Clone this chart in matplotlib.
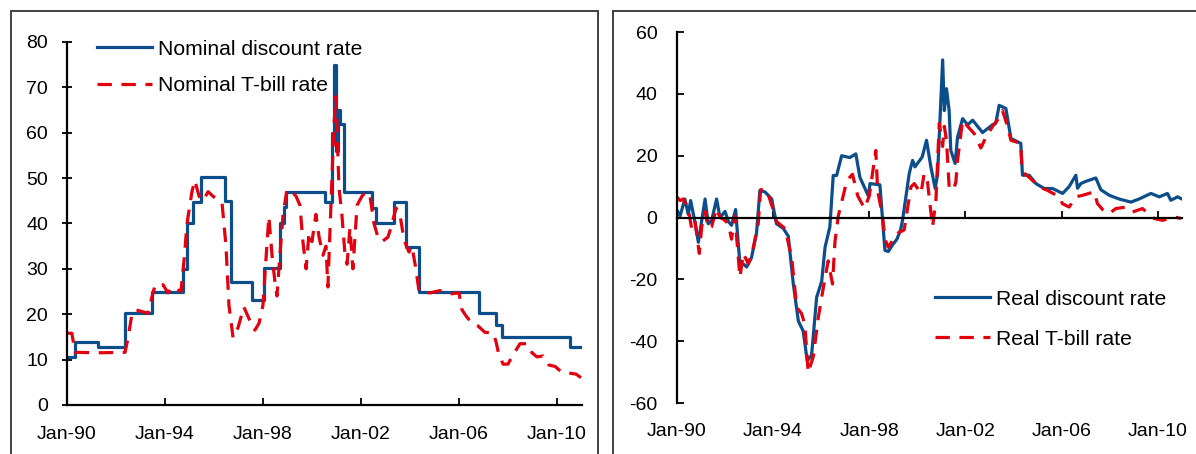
import matplotlib
matplotlib.use('Agg')
import matplotlib.pyplot as plt
from matplotlib.patches import Rectangle

plt.rcParams['font.family'] = ['Liberation Sans', 'DejaVu Sans']
plt.rcParams['font.size'] = 14
plt.rcParams['axes.unicode_minus'] = False

BLUE = '#0C4E8C'
RED = '#E3000F'

# nominal discount rate: change points (decimal year, level), drawn as steps
disc_years = [1990.0, 1990.33, 1991.25, 1992.35, 1993.45, 1994.75, 1994.88, 1995.15,
              1995.45, 1996.45, 1996.68, 1997.56, 1998.05, 1998.7, 1998.85, 1998.95,
              2000.53, 2000.8, 2000.9, 2000.98, 2001.05, 2001.15, 2001.3, 2002.45,
              2002.6, 2003.35, 2003.85, 2004.35, 2006.8, 2007.5, 2007.75, 2010.55, 2011.0]
disc_rate = [10.6, 13.9, 12.8, 20.2, 25, 30, 40, 44.8,
             50.2, 45, 27.2, 23.1, 30.1, 40, 43.7, 47,
             44.8, 60, 75, 56, 65, 62, 47, 43.3,
             40, 44.8, 34.9, 25, 20.2, 17.6, 15, 12.8, 12.8]

tbill_years = [1990.0, 1990.2, 1990.33, 1991.3, 1992.37, 1992.5, 1992.65, 1992.8, 1993.3,
               1993.43, 1993.6, 1993.92, 1994.12, 1994.29, 1994.65, 1994.78, 1994.9, 1995.1,
               1995.22, 1995.39, 1995.55, 1995.76, 1995.96, 1996.33, 1996.49, 1996.61, 1996.78,
               1996.98, 1997.22, 1997.43, 1997.67, 1997.84, 1998.0, 1998.12, 1998.24, 1998.37,
               1998.49, 1998.57, 1998.65, 1998.82, 1998.98, 1999.18, 1999.35, 1999.51, 1999.63,
               1999.76, 1999.88, 2000.0, 2000.16, 2000.29, 2000.45, 2000.57, 2000.65, 2000.78,
               2000.9, 2000.98, 2001.1, 2001.22, 2001.35, 2001.43, 2001.55, 2001.67, 2001.84,
               2002.04, 2002.2, 2002.37, 2002.53, 2002.69, 2002.86, 2003.1, 2003.22, 2003.43,
               2003.59, 2003.76, 2003.96, 2004.08, 2004.24, 2004.37, 2004.82, 2005.22, 2005.71,
               2006.0, 2006.12, 2006.29, 2006.53, 2006.78, 2007.06, 2007.39, 2007.51, 2007.63,
               2007.8, 2008.0, 2008.2, 2008.49, 2008.78, 2008.98, 2009.18, 2009.43, 2009.67,
               2009.92, 2010.2, 2010.53, 2010.78, 2010.98]
tbill_rate = [15.8, 15.8, 11.6, 11.5, 11.6, 15, 20, 21, 20.2,
              23, 26.5, 26.5, 24.7, 26, 25, 32, 40, 47,
              49.5, 46, 45, 47, 46, 44.5, 35, 22, 14.8,
              17, 21.6, 19, 16.5, 18, 22, 32, 41.5, 33,
              27, 24, 30, 42, 47.5, 47, 46, 44, 36,
              30, 38, 36, 42, 37, 33, 35, 26, 45,
              62, 68, 48, 42, 33, 31, 39, 30, 44,
              46, 47, 46, 40, 37, 36, 37, 39, 43.4,
              42, 36.3, 33.7, 35, 30, 25, 24.7, 25.2, 24.5,
              24.7, 21, 19.6, 18, 17.4, 16, 15.9, 14, 11,
              9, 9, 11, 13.5, 13.5, 11.5, 10.6, 10.8, 8.8,
              8.5, 7.2, 7, 6.8, 6.0]

real_disc_years = [1990.0, 1990.13, 1990.33, 1990.47, 1990.57, 1990.75, 1990.89, 1991.03,
                   1991.17, 1991.3, 1991.44, 1991.65, 1991.79, 1992.0, 1992.14, 1992.27,
                   1992.44, 1992.55, 1992.62, 1992.76, 1992.9, 1993.1, 1993.31, 1993.45,
                   1993.66, 1993.94, 1994.14, 1994.42, 1994.63, 1994.84, 1995.05, 1995.25,
                   1995.42, 1995.6, 1995.81, 1996.02, 1996.16, 1996.36, 1996.5, 1996.64,
                   1996.85, 1997.19, 1997.44, 1997.61, 1997.96, 1998.03, 1998.44, 1998.65,
                   1998.79, 1998.95, 1999.15, 1999.3, 1999.38, 1999.66, 1999.8, 1999.9,
                   2000.2, 2000.38, 2000.56, 2000.74, 2000.84, 2001.05, 2001.12, 2001.21,
                   2001.32, 2001.39, 2001.57, 2001.67, 2001.88, 2002.09, 2002.3, 2002.71,
                   2003.12, 2003.26, 2003.4, 2003.68, 2003.89, 2004.3, 2004.37, 2004.65,
                   2004.93, 2005.27, 2005.62, 2006.04, 2006.31, 2006.59, 2006.66, 2006.8,
                   2007.0, 2007.42, 2007.63, 2007.98, 2008.39, 2008.88, 2009.22, 2009.71,
                   2010.06, 2010.4, 2010.54, 2010.82, 2011.0]
real_disc = [2.4, 0.5, 6, 1, 5.5, -1.5, -8, -1,
             6, -2, -1, 6, 0, 2, -1.3, -2.5,
             2.6, -8.4, -15, -15, -16, -13, -5, 8.8,
             8.3, 6, -2, -3.5, -6, -21.5, -33.5, -36.7,
             -46.4, -44.5, -25.8, -20.6, -9.6, -3, 13.6, 13.6,
             20, 19.4, 20.6, 13, 7, 11, 10.6, -10.6,
             -11, -9, -7, -4, -1, 14.2, 18.5, 16.4,
             19.6, 25, 16.4, 9.4, 14, 51, 34.6, 41.7,
             34.6, 21.7, 17.5, 26, 32, 30, 31.5, 27.5,
             30, 30.5, 36.3, 35.3, 25.6, 24, 13.7, 13.7,
             11, 9.4, 9.4, 7.8, 10, 13.7, 9.5, 11,
             11.7, 12.8, 9, 7.2, 6, 5, 6, 7.8,
             6.7, 7.8, 5.6, 6.7, 6]

real_tbill_years = [1990.0, 1990.13, 1990.26, 1990.47, 1990.61, 1990.75, 1990.93, 1991.03,
                    1991.17, 1991.3, 1991.44, 1991.65, 1991.79, 1991.93, 1992.14, 1992.27,
                    1992.41, 1992.62, 1992.76, 1992.97, 1993.18, 1993.38, 1993.48, 1993.73,
                    1994.0, 1994.14, 1994.49, 1994.77, 1994.98, 1995.18, 1995.32, 1995.46,
                    1995.67, 1995.88, 1996.09, 1996.29, 1996.47, 1996.57, 1996.71, 1997.07,
                    1997.3, 1997.52, 1997.8, 1998.0, 1998.27, 1998.35, 1998.55, 1998.65,
                    1998.79, 1999.0, 1999.2, 1999.45, 1999.73, 1999.87, 2000.15, 2000.28,
                    2000.42, 2000.63, 2000.77, 2000.91, 2001.05, 2001.12, 2001.21, 2001.32,
                    2001.49, 2001.6, 2001.67, 2001.88, 2002.09, 2002.36, 2002.64, 2002.85,
                    2003.13, 2003.33, 2003.54, 2003.75, 2003.89, 2004.3, 2004.35, 2004.65,
                    2005.07, 2005.41, 2005.9, 2006.03, 2006.31, 2006.59, 2006.87, 2007.35,
                    2007.49, 2007.7, 2007.98, 2008.25, 2008.67, 2008.95, 2009.36, 2009.85,
                    2010.2, 2010.68, 2010.96]
real_tbill = [6.6, 5.5, 6, 3, -3.5, -1, -11.6, -3,
              2, -3.5, -3, 3, 0, -0.5, -2, -7,
              0.5, -19.3, -11.6, -15, -9.6, -2, 9, 9,
              2.6, -1.3, -3.5, -12.8, -29, -31, -34.6, -50.2,
              -45, -32.3, -22.6, -14, -21.5, -8, 0.5, 12,
              14, 7, 3, 7, 21.7, 8.5, 0.5, -7,
              -9.6, -7, -5, -4, 9.9, 11, 7.8, 14.2,
              11.5, -3, 5.6, 30.5, 23, 29.5, 25, 9.9,
              8.8, 11.5, 18.5, 31.5, 29.5, 27.2, 22.5, 26,
              29.5, 31.5, 34.6, 29.5, 25, 24, 15, 13,
              9.9, 8.8, 6.7, 4.5, 3.4, 6.7, 7.2, 8.3,
              4.5, 2.6, 1.3, 2.9, 3.4, 1.8, 2.9, -0.3,
              -0.9, 0.2, -0.3]

tick_years = [1990, 1994, 1998, 2002, 2006, 2010]
tick_labels = ['Jan-90', 'Jan-94', 'Jan-98', 'Jan-02', 'Jan-06', 'Jan-10']

fig = plt.figure(figsize=(11.96, 4.54), dpi=100)

# panel frames (open at the bottom, like the source)
for x0, w in [(0.0092, 0.4908), (0.5125, 0.5)]:
    fig.patches.append(Rectangle((x0, -0.1), w, 1.076, transform=fig.transFigure,
                                 fill=False, ec='#333333', lw=1.3))

dash = (4.5, 3)
leg_kw = dict(loc='upper left', frameon=False, borderpad=0, borderaxespad=0,
              handlelength=2.6, handletextpad=0.3, fontsize=15.2)

# ---- left panel
ax1 = fig.add_axes([0.056, 0.108, 0.4306, 0.7996])
ax1.plot(disc_years, disc_rate, color=BLUE, lw=2.3, drawstyle='steps-post',
         label='Nominal discount rate')
ax1.plot(tbill_years, tbill_rate, color=RED, lw=2.3, dashes=dash,
         label='Nominal T-bill rate')
ax1.set_xlim(1990, 2011.02)
ax1.set_ylim(0, 80)
ax1.set_yticks(range(0, 81, 10))
ax1.set_xticks(tick_years)
ax1.set_xticklabels(tick_labels)
ax1.tick_params(axis='x', direction='in', length=5, width=1.3, pad=15)
ax1.tick_params(axis='y', direction='inout', length=7, width=1.3, pad=10)
for s in ['top', 'right']:
    ax1.spines[s].set_visible(False)
for s in ['left', 'bottom']:
    ax1.spines[s].set_linewidth(1.6)
ax1.legend(bbox_to_anchor=(0.058, 1.006), labelspacing=0.82, **leg_kw)

# ---- right panel
ax2 = fig.add_axes([0.566, 0.1123, 0.4222, 0.817])
ax2.plot(real_disc_years, real_disc, color=BLUE, lw=2.3, label='Real discount rate')
ax2.plot(real_tbill_years, real_tbill, color=RED, lw=2.3, dashes=dash,
         label='Real T-bill rate')
ax2.set_xlim(1990, 2011.0)
ax2.set_ylim(-60, 60)
ax2.set_yticks(range(-60, 61, 20))
ax2.set_xticks(tick_years)
ax2.set_xticklabels(tick_labels)
ax2.spines['bottom'].set_position(('data', 0))
ax2.tick_params(axis='x', direction='in', length=5, width=1.3, pad=148)
ax2.tick_params(axis='y', direction='in', length=5, width=1.3, pad=14)
for s in ['top', 'right']:
    ax2.spines[s].set_visible(False)
for s in ['left', 'bottom']:
    ax2.spines[s].set_linewidth(1.6)
ax2.legend(bbox_to_anchor=(0.511, 0.306), labelspacing=1.0, **leg_kw)

fig.savefig('out.png', dpi=100)
